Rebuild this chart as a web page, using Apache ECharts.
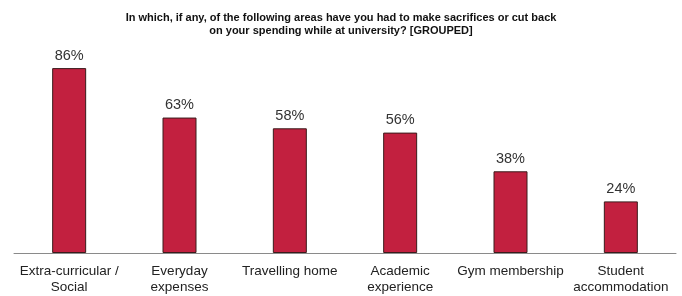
<!DOCTYPE html>
<html><head><meta charset="utf-8">
<script src="https://cdn.jsdelivr.net/npm/echarts@6/dist/echarts.min.js"></script>
<style>html,body{margin:0;padding:0;background:#fff}#c{width:682px;height:296px}</style>
</head><body><div id="c"></div>
<script>
const titleText = "In which, if any, of the following areas have you had to make sacrifices or cut back\non your spending while at university? [GROUPED]";
const categories = ["Extra-curricular /\nSocial", "Everyday\nexpenses", "Travelling home", "Academic\nexperience", "Gym membership", "Student\naccommodation"];
const values = [86, 63, 58, 56, 38, 24];

const chart = echarts.init(document.getElementById('c'), null, {renderer: 'canvas'});
chart.setOption({
  animation: false,
  title: {
    text: titleText, left: 'center', top: 6,
    textStyle: {fontFamily: 'Liberation Sans', fontWeight: 'bold', fontSize: 11, lineHeight: 13, color: '#111'}
  },
  grid: {left: 14, right: 6, top: 38, bottom: 43, containLabel: false},
  xAxis: {
    type: 'category', data: categories,
    axisLine: {lineStyle: {color: '#8a8a8a', width: 1}},
    axisTick: {show: false},
    axisLabel: {interval: 0, color: '#222', fontFamily: 'Liberation Sans', fontSize: 13.5, lineHeight: 16, margin: 10}
  },
  yAxis: {type: 'value', min: 0, max: 100, show: false, splitLine: {show: false}},
  series: [{
    type: 'bar', data: values, barWidth: 34,
    itemStyle: {color: '#c2203f', borderColor: '#3a1c1c', borderWidth: 1},
    label: {show: true, position: 'top', distance: 5, formatter: '{c}%', color: '#333', fontFamily: 'Liberation Sans', fontSize: 14.5}
  }]
});
</script></body></html>
